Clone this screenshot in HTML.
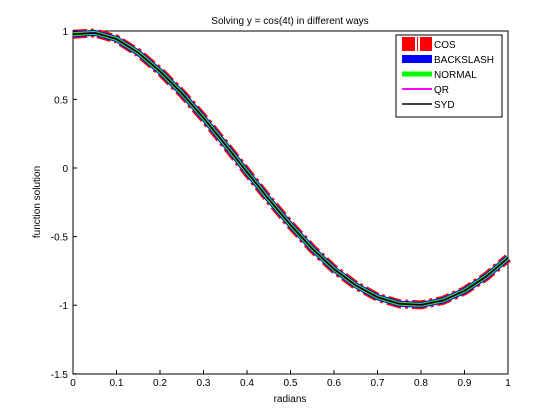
<!DOCTYPE html>
<html><head><meta charset="utf-8"><style>
body{margin:0;background:#fff;}
svg{display:block;font-family:"Liberation Sans",sans-serif;}
</style></head><body>
<svg id="chart" width="560" height="420">
<rect x="0" y="0" width="560" height="420" fill="#fff"/>
<rect x="73" y="31" width="435" height="343" fill="#fff" stroke="#000" stroke-width="1"/>
<g id="series"></g>
<g id="axes"></g>
<text x="290" y="24" font-size="10" text-anchor="middle">Solving y = cos(4t) in different ways</text>
<text x="290" y="402" font-size="10" text-anchor="middle">radians</text>
<text x="40" y="202" font-size="10" text-anchor="middle" transform="rotate(-90 40 202)">function solution</text>
<g>
<rect x="396" y="35" width="106" height="82" fill="#fff" stroke="#000"/>
<g id="legend"></g>
</g>
</svg>
<script>
const tVals=[0,0.05,0.1,0.15,0.2,0.25,0.3,0.35,0.4,0.45,0.5,0.55,0.6,0.65,0.7,0.75,0.8,0.85,0.9,0.95,1];
const yVals=[0.975,0.985,0.94,0.84,0.705,0.545,0.365,0.17,-0.03,-0.228,-0.415,-0.588,-0.737,-0.856,-0.942,-0.99,-0.998,-0.966,-0.895,-0.79,-0.655];
const seriesNames=["COS","BACKSLASH","NORMAL","QR","SYD"];
const seriesColors=["#ff0000","#0000ff","#00ff00","#ff00ff","#000000"];
const seriesWidths=[9,6,4,2,1.5];
const xTicks=[0,0.1,0.2,0.3,0.4,0.5,0.6,0.7,0.8,0.9,1];
const yTicks=[1,0.5,0,-0.5,-1,-1.5];
const xs=v=>73+v*435;
const ys=v=>168-v*137.2;
const NS="http://www.w3.org/2000/svg";
const sg=document.getElementById('series');
let d=tVals.map((t,i)=>(i?'L':'M')+xs(t).toFixed(1)+','+ys(yVals[i]).toFixed(1)).join(' ');
seriesNames.forEach((n,k)=>{
 const p=document.createElementNS(NS,'path');
 
 
 p.setAttribute('d',d);p.setAttribute('fill','none');
 p.setAttribute('stroke',seriesColors[k]);p.setAttribute('stroke-width',seriesWidths[k]);
 if(k==0)p.setAttribute('stroke-dasharray','14 4 3 4');
 sg.appendChild(p);
});
const ax=document.getElementById('axes');
xTicks.forEach(v=>{
 const l=document.createElementNS(NS,'line');
 
 
 l.setAttribute('x1',xs(v));l.setAttribute('x2',xs(v));l.setAttribute('y1',374);l.setAttribute('y2',370);l.setAttribute('stroke','#000');
 ax.appendChild(l);
 const t=document.createElementNS(NS,'text');
 
 
 t.setAttribute('x',xs(v));t.setAttribute('y',386);t.setAttribute('font-size','10');t.setAttribute('text-anchor','middle');
 t.textContent=String(v);ax.appendChild(t);
});
yTicks.forEach(v=>{
 const l=document.createElementNS(NS,'line');
 
 
 l.setAttribute('x1',73);l.setAttribute('x2',77);l.setAttribute('y1',ys(v));l.setAttribute('y2',ys(v));l.setAttribute('stroke','#000');
 ax.appendChild(l);
 const t=document.createElementNS(NS,'text');
 
 
 t.setAttribute('x',68);t.setAttribute('y',ys(v)+4);t.setAttribute('font-size','10');t.setAttribute('text-anchor','end');
 t.textContent=String(v);ax.appendChild(t);
});
const lg=document.getElementById('legend');
seriesNames.forEach((n,k)=>{
 const y=44+k*15;
 const l=document.createElementNS(NS,'line');
 
 
 l.setAttribute('x1',402);l.setAttribute('x2',432);l.setAttribute('y1',y);l.setAttribute('y2',y);
 l.setAttribute('stroke',seriesColors[k]);l.setAttribute('stroke-width',k==0?14:seriesWidths[k]+(k==1?2:k==2?1:0));
 if(k==0)l.setAttribute('stroke-dasharray','13 2 1 2');
 lg.appendChild(l);
 const t=document.createElementNS(NS,'text');
 
 
 t.setAttribute('x',434);t.setAttribute('y',y+4);t.setAttribute('font-size','10');
 t.textContent=n;lg.appendChild(t);
});
</script>
</body></html>
